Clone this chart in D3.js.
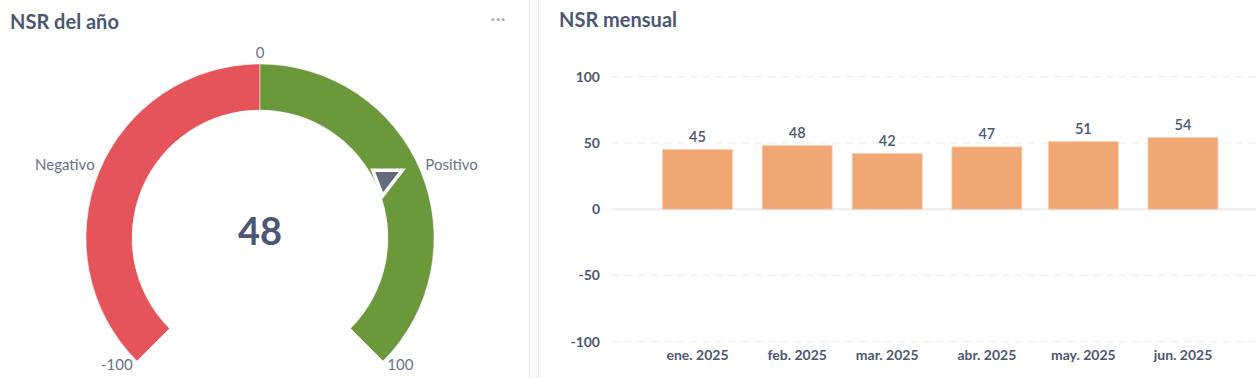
<!DOCTYPE html>
<html lang="es">
<head>
<meta charset="utf-8">
<title>NSR</title>
<script src="https://cdn.jsdelivr.net/npm/d3@7/dist/d3.min.js"></script>
<style>
  body { margin: 0; background: #fff; font-family: Lato, "Noto Sans", sans-serif; }
  svg { display: block; }
</style>
</head>
<body>
<script>
// datos
var gaugeValue = 48;
var gaugeBounds = [-100, 0, 100];
var gaugeLabels = ["Negativo", "Positivo"];
var months = ["2025-01-01", "2025-02-01", "2025-03-01", "2025-04-01", "2025-05-01", "2025-06-01"];
var monthLabels = ["ene. 2025", "feb. 2025", "mar. 2025", "abr. 2025", "may. 2025", "jun. 2025"];
var nsrMensual = [45, 48, 42, 47, 51, 54];
var yTicks = [-100, -50, 0, 50, 100];

var w = 1256, h = 378;
var dark = "#4c5773", grey = "#6c7285";

var svg = d3.select("body").append("svg")
  .attr("width", w)
  .attr("height", h);

svg.append("rect").attr("width", w).attr("height", h).attr("fill", "#fff");

// separador entre tarjetas
svg.append("rect")
  .attr("x", 529.5).attr("y", -1)
  .attr("width", 9).attr("height", h + 2)
  .attr("fill", "#f9fafb")
  .attr("stroke", "#eceef2");

// ---------- gauge ----------
svg.append("text")
  .attr("x", 10).attr("y", 29)
  .attr("font-size", 20).attr("font-weight", 700)
  .attr("fill", dark)
  .text("NSR del año");

svg.append("text")
  .attr("x", 498).attr("y", 25)
  .attr("text-anchor", "middle")
  .attr("font-size", 20).attr("font-weight", 400)
  .attr("fill", "#a9aebb")
  .text("···");

var cx = 260, cy = 238, rOut = 174, rIn = 128;
var angle = d3.scaleLinear().domain([-100, 100]).range([-0.75 * Math.PI, 0.75 * Math.PI]);
var segColors = ["#e6545b", "#6a983b"];

var g = svg.append("g").attr("transform", "translate(" + cx + "," + cy + ")");
var arc = d3.arc().innerRadius(rIn).outerRadius(rOut);

g.selectAll("path.seg")
  .data(gaugeLabels)
  .enter()
  .append("path")
  .attr("class", "seg")
  .attr("d", function(d, i) {
    return arc({ startAngle: angle(gaugeBounds[i]), endAngle: angle(gaugeBounds[i + 1]) });
  })
  .attr("fill", function(d, i) { return segColors[i]; })
  .attr("stroke", "#fff")
  .attr("stroke-width", 0.5);

function polar(v, r) {
  var a = angle(v);
  return [r * Math.sin(a), -r * Math.cos(a)];
}

// etiquetas de segmento
g.selectAll("text.seg")
  .data(gaugeLabels)
  .enter()
  .append("text")
  .attr("class", "seg")
  .attr("x", function(d, i) { return polar((gaugeBounds[i] + gaugeBounds[i + 1]) / 2, 179)[0]; })
  .attr("y", function(d, i) { return polar((gaugeBounds[i] + gaugeBounds[i + 1]) / 2, 179)[1]; })
  .attr("text-anchor", function(d, i) { return i == 0 ? "end" : "start"; })
  .attr("font-size", 15)
  .attr("fill", grey)
  .text(function(d) { return d; });

// etiquetas de limites
g.selectAll("text.bound")
  .data(gaugeBounds)
  .enter()
  .append("text")
  .attr("class", "bound")
  .attr("x", function(d) { return polar(d, 180)[0]; })
  .attr("y", function(d) { return polar(d, 180)[1] + (d == 0 ? 0 : 5); })
  .attr("text-anchor", function(d) { return d < 0 ? "end" : d > 0 ? "start" : "middle"; })
  .attr("font-size", 15)
  .attr("fill", grey)
  .text(function(d) { return d; });

// aguja
var p = polar(gaugeValue, 139);
g.append("path")
  .attr("d", "M-10.5,-6.8L13,-6.8L-2.7,13.5Z")
  .attr("transform", "translate(" + p[0] + "," + p[1] + ")")
  .attr("fill", "#656b7f")
  .attr("stroke", "#fff")
  .attr("stroke-width", 7)
  .attr("stroke-linejoin", "miter")
  .attr("paint-order", "stroke");

g.append("text")
  .attr("x", 0).attr("y", 7)
  .attr("text-anchor", "middle")
  .attr("font-size", 38).attr("font-weight", 700)
  .attr("fill", dark)
  .text(gaugeValue);

// ---------- barras ----------
svg.append("text")
  .attr("x", 559).attr("y", 27)
  .attr("font-size", 20).attr("font-weight", 700)
  .attr("fill", dark)
  .text("NSR mensual");

var parse = d3.timeParse("%Y-%m-%d");
var dates = months.map(parse);

var xScale = d3.scaleTime()
  .domain(d3.extent(dates))
  .range([697.5, 1183]);

var yScale = d3.scaleLinear()
  .domain([-100, 100])
  .range([341.7, 76.7]);

var gridLeft = 612, gridRight = 1256;

svg.selectAll("line.grid")
  .data(yTicks)
  .enter()
  .append("line")
  .attr("class", "grid")
  .attr("x1", gridLeft).attr("x2", gridRight)
  .attr("y1", function(d) { return yScale(d); })
  .attr("y2", function(d) { return yScale(d); })
  .attr("stroke", function(d) { return d == 0 ? "#ececef" : "#e9ebee"; })
  .attr("stroke-width", function(d) { return d == 0 ? 2 : 1; })
  .attr("stroke-dasharray", function(d) { return d == 0 ? null : "7,6"; });

svg.selectAll("text.ytick")
  .data(yTicks)
  .enter()
  .append("text")
  .attr("class", "ytick")
  .attr("x", 600)
  .attr("y", function(d) { return yScale(d) + 5; })
  .attr("text-anchor", "end")
  .attr("font-size", 14).attr("font-weight", 700)
  .attr("fill", dark)
  .text(function(d) { return d; });

var barW = 70;

svg.selectAll("rect.bar")
  .data(nsrMensual)
  .enter()
  .append("rect")
  .attr("class", "bar")
  .attr("x", function(d, i) { return xScale(dates[i]) - barW / 2; })
  .attr("y", function(d) { return yScale(d); })
  .attr("width", barW)
  .attr("height", function(d) { return yScale(0) - yScale(d); })
  .attr("fill", "#f0a773")
  .attr("stroke", "#f6cfb2")
  .attr("stroke-width", 0.8);

svg.selectAll("text.val")
  .data(nsrMensual)
  .enter()
  .append("text")
  .attr("class", "val")
  .attr("x", function(d, i) { return xScale(dates[i]); })
  .attr("y", function(d) { return yScale(d) - 8; })
  .attr("text-anchor", "middle")
  .attr("font-size", 14.5).attr("font-weight", 600)
  .attr("fill", dark)
  .text(function(d) { return d; });

svg.selectAll("text.xtick")
  .data(monthLabels)
  .enter()
  .append("text")
  .attr("class", "xtick")
  .attr("x", function(d, i) { return xScale(dates[i]); })
  .attr("y", 360)
  .attr("text-anchor", "middle")
  .attr("font-size", 14).attr("font-weight", 700)
  .attr("fill", dark)
  .text(function(d) { return d; });
</script>
</body>
</html>
